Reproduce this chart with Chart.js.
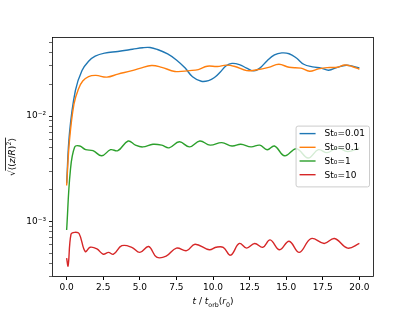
<!DOCTYPE html>
<html>
<head>
<meta charset="utf-8">
<script src="https://cdn.jsdelivr.net/npm/chart.js@4"></script>
<style>
html,body{margin:0;padding:0;background:#fff;}
</style>
</head>
<body>
<canvas id="c" width="415" height="311"></canvas>
<script>
// tider (t/t_orb) och värden för varje serie
const t_001 = [0.0,0.2,0.6,1.05,1.5,1.95,2.6,3.5,4.5,5.2,5.7,6.2,6.9,7.5,8.1,8.6,9.2,9.7,10.1,10.5,10.9,11.3,11.8,12.3,12.8,13.2,13.7,14.2,14.7,15.2,15.7,16.2,16.8,17.4,17.9,18.5,19.1,19.6,20.0];
const v_001 = [0.0023,0.007,0.0175,0.027,0.0331,0.037,0.0395,0.041,0.043,0.0445,0.0447,0.0428,0.0388,0.034,0.0285,0.0236,0.0214,0.0217,0.0232,0.0262,0.030,0.0316,0.0308,0.0285,0.0268,0.0285,0.0335,0.038,0.0397,0.039,0.0355,0.031,0.0293,0.0285,0.0272,0.029,0.0303,0.0296,0.0286];

const t_01 = [0.0,0.2,0.5,0.8,1.1,1.5,2.0,2.75,3.5,4.4,5.0,5.8,6.5,7.4,8.4,9.0,9.6,10.3,10.9,11.5,12.3,13.0,13.8,14.5,15.2,16.0,16.6,17.2,17.8,18.5,19.0,19.5,20.0];
const v_01 = [0.0022,0.006,0.013,0.018,0.0215,0.0237,0.0243,0.0234,0.025,0.0268,0.0283,0.0302,0.029,0.0265,0.027,0.0276,0.0297,0.0295,0.0304,0.0295,0.027,0.0275,0.029,0.031,0.029,0.0285,0.0266,0.028,0.0288,0.029,0.0305,0.0295,0.0278];

const t_1 = [0.0,0.25,0.55,0.9,1.3,1.8,2.4,3.0,3.5,4.2,4.7,5.2,5.9,6.5,7.0,7.7,8.4,9.1,9.8,10.6,11.3,11.9,12.6,13.2,13.7,14.2,14.9,15.7,16.5,17.2,17.8,18.5,19.2,20.0];
const v_1 = [0.00083,0.003,0.0051,0.0052,0.0048,0.0047,0.0042,0.0048,0.0047,0.0058,0.0053,0.0051,0.0054,0.0053,0.0050,0.0057,0.0051,0.0058,0.0053,0.0056,0.0052,0.0054,0.0051,0.0053,0.0048,0.0052,0.0042,0.0049,0.0040,0.0048,0.0045,0.0050,0.0046,0.0050];

const t_10 = [0.0,0.1,0.3,0.55,0.85,1.27,1.6,2.07,2.5,2.86,3.2,3.77,4.45,5.0,5.6,6.15,6.8,7.5,8.2,8.77,9.75,10.2,10.7,11.2,11.8,12.3,12.85,13.4,13.9,14.55,15.2,15.9,16.7,17.6,18.3,19.2,20.0];
const v_10 = [0.00045,0.00038,0.00076,0.00079,0.00077,0.00052,0.00057,0.00055,0.00049,0.00051,0.00049,0.00059,0.00057,0.00051,0.00058,0.00046,0.00047,0.00056,0.00053,0.00061,0.00054,0.00057,0.00057,0.00048,0.00062,0.00056,0.00062,0.00057,0.00067,0.00054,0.00065,0.00051,0.00069,0.00062,0.00069,0.00056,0.00062];

const serie_namn = ['St\u2080=0.01','St\u2080=0.1','St\u2080=1','St\u2080=10'];
const farger = ['#1f77b4','#ff7f0e','#2ca02c','#d62728'];
const x_ticks = [0,2.5,5,7.5,10,12.5,15,17.5,20];
const x_min = -1.0, x_max = 21.0;
const y_min = 2.98e-4, y_max = 0.0562;

const FONT = '"DejaVu Sans", sans-serif';

// logaritmiska ticks: 1..9 x 10^n inom intervallet
function log_ticks(min, max)
{
    let out = [];
    for (let e = Math.floor(Math.log10(min)); e <= Math.ceil(Math.log10(max)); e++) {
        for (let k = 1; k <= 9; k++) {
            let v = k * Math.pow(10, e);
            if (v >= min * 0.999 && v <= max) out.push(v);
        }
    }
    return out;
}

function is_major(v)
{
    let l = Math.log10(v);
    return Math.abs(l - Math.round(l)) < 1e-6;
}

const sup = {'-':'\u207b','0':'\u2070','1':'\u00b9','2':'\u00b2','3':'\u00b3','4':'\u2074'};
function pow_label(v)
{
    let e = String(Math.round(Math.log10(v)));
    return '10' + e.split('').map(c => sup[c]).join('');
}

// ritar text i bitar (kursiv, sub, sup)
function draw_runs(ctx, runs, cx, base, size)
{
    const font_of = r => (r.it ? 'italic ' : '') + ((r.sub || r.sup) ? size * 0.7 : size) + 'px ' + FONT;
    let total = 0;
    runs.forEach(r => { ctx.font = font_of(r); r.w = ctx.measureText(r.t).width; total += r.w; });
    let x = cx - total / 2;
    let res = {left: x, parts: []};
    runs.forEach(r => {
        ctx.font = font_of(r);
        let dy = r.sub ? size * 0.28 : (r.sup ? -size * 0.4 : 0);
        ctx.fillText(r.t, x, base + dy);
        res.parts.push({x: x, w: r.w});
        x += r.w;
    });
    res.right = x;
    return res;
}

const ram_och_text = {
    id: 'ram_och_text',
    afterDatasetsDraw(chart) {
        const ctx = chart.ctx;
        const a = chart.chartArea;
        ctx.save();
        // ram runt plotten
        ctx.strokeStyle = '#000';
        ctx.lineWidth = 0.8;
        ctx.strokeRect(a.left + 0.5, a.top + 0.5, a.right - a.left - 1, a.bottom - a.top - 1);

        ctx.fillStyle = '#000';
        ctx.textBaseline = 'alphabetic';
        ctx.textAlign = 'left';
        // x-titel
        draw_runs(ctx, [
            {t:'t', it:true}, {t:' / '}, {t:'t', it:true}, {t:'orb', sub:true},
            {t:'('}, {t:'r', it:true}, {t:'0', sub:true}, {t:')'}
        ], (a.left + a.right) / 2, 304, 9);

        // y-titel, roterad
        ctx.translate(15, (a.top + a.bottom) / 2);
        ctx.rotate(-Math.PI / 2);
        let r = draw_runs(ctx, [
            {t:'\u221a'}, {t:'\u27e8('}, {t:'z', it:true}, {t:'/'}, {t:'R', it:true},
            {t:')'}, {t:'2', sup:true}, {t:'\u27e9'}
        ], 0, 0, 9);
        ctx.lineWidth = 0.8;
        ctx.beginPath();
        ctx.moveTo(r.parts[1].x - 0.5, -9.5);
        ctx.lineTo(r.right + 0.5, -9.5);
        ctx.stroke();
        ctx.restore();

        // förklaring
        ctx.save();
        ctx.font = '9px ' + FONT;
        let tw = Math.max(...serie_namn.map(s => ctx.measureText(s).width));
        const rad = 13.7, pad = 4;
        let bw = pad + 16 + 9 + tw + pad;
        let bh = serie_namn.length * rad + 2 * pad - 2;
        let bx = a.right - 5 - bw;
        let by = (a.top + a.bottom) / 2 - bh / 2 - 1;
        ctx.fillStyle = 'rgba(255,255,255,0.8)';
        ctx.strokeStyle = '#cccccc';
        ctx.lineWidth = 1;
        ctx.beginPath();
        ctx.roundRect(bx + 0.5, by + 0.5, bw, bh, 2);
        ctx.fill();
        ctx.stroke();
        serie_namn.forEach((s, i) => {
            let yy = by + pad + 4 + i * rad;
            ctx.strokeStyle = farger[i];
            ctx.lineWidth = 1.4;
            ctx.beginPath();
            ctx.moveTo(bx + pad, yy);
            ctx.lineTo(bx + pad + 16, yy);
            ctx.stroke();
            ctx.fillStyle = '#000';
            ctx.textBaseline = 'middle';
            ctx.fillText(s, bx + pad + 16 + 9, yy + 0.5);
        });
        ctx.restore();
    }
};

const serier = [[t_001, v_001], [t_01, v_01], [t_1, v_1], [t_10, v_10]];

new Chart(document.getElementById('c'), {
    type: 'line',
    data: {
        datasets: serier.map((s, i) => ({
            label: serie_namn[i],
            data: s[0].map((t, j) => ({x: t, y: s[1][j]})),
            borderColor: farger[i],
            borderWidth: 1.4,
            pointRadius: 0,
            fill: false,
            tension: 0.4,
            order: 4 - i
        }))
    },
    options: {
        responsive: false,
        animation: false,
        devicePixelRatio: 1,
        layout: { padding: { left: 0, top: 37, right: 41, bottom: 0 } },
        plugins: { legend: { display: false }, tooltip: { enabled: false } },
        scales: {
            x: {
                type: 'linear',
                min: x_min,
                max: x_max,
                afterBuildTicks: s => { s.ticks = x_ticks.map(v => ({value: v})); },
                afterFit: s => { s.height = 34; },
                ticks: {
                    callback: v => v.toFixed(1),
                    color: '#000',
                    font: { family: FONT, size: 9 },
                    padding: 2,
                    maxRotation: 0,
                    autoSkip: false
                },
                grid: { drawOnChartArea: false, drawTicks: true, tickLength: 3, tickColor: '#000', color: '#000' },
                border: { display: false }
            },
            y: {
                type: 'logarithmic',
                min: y_min,
                max: y_max,
                afterBuildTicks: s => { s.ticks = log_ticks(y_min, y_max).map(v => ({value: v, major: is_major(v)})); },
                afterFit: s => { s.width = 52; },
                ticks: {
                    callback: v => is_major(v) ? pow_label(v) : '',
                    color: '#000',
                    font: { family: FONT, size: 9 },
                    padding: 3,
                    autoSkip: false
                },
                grid: {
                    drawOnChartArea: false, drawTicks: true, tickLength: 3,
                    tickColor: '#000', color: '#000',
                    tickWidth: c => (c.tick && c.tick.major) ? 0.9 : 0.6
                },
                border: { display: false }
            }
        }
    },
    plugins: [ram_och_text]
});
</script>
</body>
</html>
